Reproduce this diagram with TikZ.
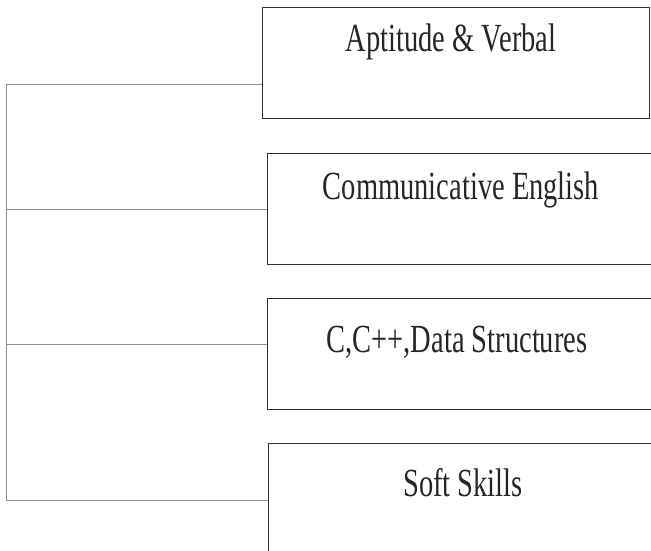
\documentclass[tikz,border=0pt]{standalone}
\usepackage{fontspec}
\setmainfont{Liberation Serif}
\begin{document}
\begin{tikzpicture}[x=1pt,y=-1pt,
  boxnode/.style={draw=black!80,line width=1.3pt,rectangle,inner sep=0pt,anchor=north west},
  boxlabel/.style={font=\fontsize{28.5}{30}\selectfont,inner sep=0pt,text=black!85},
  link/.style={draw=black!45,line width=1pt}]
\useasboundingbox (0,0) rectangle (651,551);
\node[boxnode,minimum width=387pt,minimum height=111pt] (b1) at (262,7) {};
\node[boxnode,minimum width=400pt,minimum height=111pt] (b2) at (267,153) {};
\node[boxnode,minimum width=400pt,minimum height=111pt] (b3) at (267,298) {};
\node[boxnode,minimum width=400pt,minimum height=130pt] (b4) at (268,443) {};
\node[boxlabel] (t1) at (451,42) {\scalebox{1}[1.4]{Aptitude \& Verbal}};
\node[boxlabel] (t2) at (461,190) {\scalebox{1}[1.4]{Communicative English}};
\node[boxlabel] (t3) at (457,342) {\scalebox{1}[1.4]{C,C++,Data Structures}};
\node[boxlabel] (t4) at (463,483) {\scalebox{1}[1.4]{Soft Skills}};
\coordinate (j1) at (6,85);
\coordinate (j2) at (6,209);
\coordinate (j3) at (6,344);
\coordinate (j4) at (6,500);
\draw[link] (j1) -- (j4);
\draw[link] (j1) -- (j1 -| b1.west);
\draw[link] (j2) -- (j2 -| b2.west);
\draw[link] (j3) -- (j3 -| b3.west);
\draw[link] (j4) -- (j4 -| b4.west);
\end{tikzpicture}
\end{document}
